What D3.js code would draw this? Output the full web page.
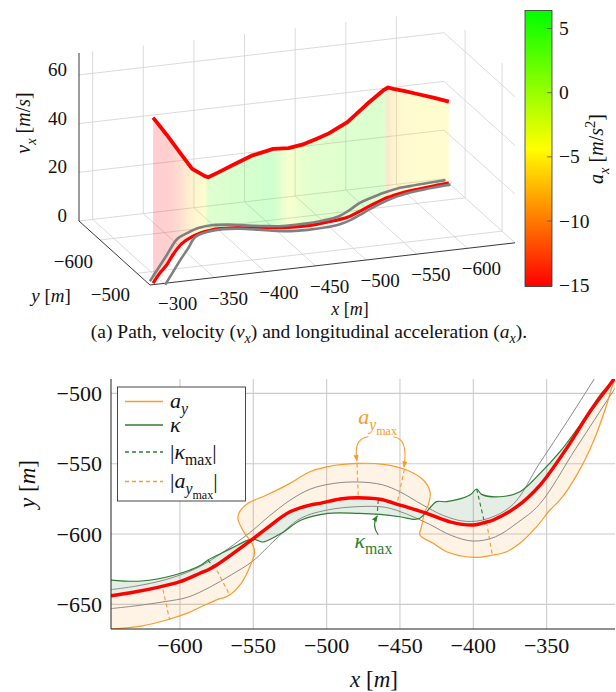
<!DOCTYPE html>
<html>
<head>
<meta charset="utf-8">
<script src="https://cdnjs.cloudflare.com/ajax/libs/d3/7.8.5/d3.min.js"></script>
<style>
  body { margin: 0; background: #fff; }
  svg { display: block; }
  text { font-family: "Liberation Serif", "DejaVu Serif", serif; fill: #111; }
</style>
</head>
<body>
<svg id="chart" width="616" height="692"></svg>
<script>
// reference path, shared by both panels (m)
const pathX = [-647, -631.8, -613.6, -600, -586.4, -580, -575, -563.7, -550.7, -540.9, -525, -511.4, -504.5, -490.9, -478.4, -463.6, -450, -431.8, -415.9, -400, -390, -386.4, -370.4, -354.5, -336.4, -320.5, -304.6, -291]
const pathY = [-643.9, -641.4, -637.5, -633.9, -627.9, -625, -622, -613.7, -603.8, -595.9, -584.2, -579.4, -578.2, -575.1, -574.2, -575.3, -579.4, -585.3, -591.3, -593.6, -591.2, -590, -580.6, -565.2, -539.1, -513.1, -490.5, -469]
// velocity v_x (m/s) and longitudinal acceleration a_x (m/s^2) along the path
const speed = [33.5, 36.1, 39.1, 41.4, 43.8, 45.1, 44.8, 43.6, 42.3, 41.2, 39.1, 37.4, 36.3, 35.1, 33.7, 32.6, 32.4, 29.8, 26.1, 23.0, 22.0, 22.8, 27.8, 36.4, 45.6, 53.5, 61.4, 68]
const accel = [-5, -5, -5, -5.5, -6.5, -10, 3, 3.5, 3.5, 3, 3, 2.5, 2, 2, 1, -3, 6, 5, 4, 3, 3, -5, -7, -11, -14, -15, -15, -15]

// road borders (gray)
const borderAX = [-647, -630, -610, -590, -575, -560, -550, -540, -525, -511, -495, -478, -462, -450, -435, -420, -405, -390, -373, -355, -336, -318, -300]
const borderAY = [-639.5, -637, -632.5, -625, -616, -605, -597, -588, -576, -568, -564, -563, -565, -570, -579, -587, -591, -589, -579, -550, -520, -490.5, -461]
const borderBX = [-647, -630, -610, -595, -580, -565, -550, -535, -518, -500, -478, -460, -445, -430, -415, -400, -385, -370, -355, -330, -305, -290]
const borderBY = [-653, -651, -648, -645, -638, -629, -619, -604, -589, -583, -580.5, -581, -586, -593, -601, -605, -602, -592, -579, -539, -499, -475]

// lateral acceleration envelope a_y
const ayX = [-647, -626.4, -609.1, -595.4, -585.5, -574.1, -567.3, -558.2, -551.4, -549.1, -551.4, -555.9, -560.5, -559.3, -553.6, -540.9, -525, -511.4, -500, -479.5, -461.4, -445.4, -434.1, -429.5, -430.7, -433, -435.3, -436.4, -427.3, -418.2, -400, -386.4, -377.3, -368.2, -356.8, -347.7, -340.9, -329.5, -318.2, -309.1, -305.7, -300]
const ayY = [-667.5, -665.4, -661.1, -656.4, -651.7, -646.4, -644.1, -635, -620.8, -612.6, -605.5, -599.5, -588.8, -584.1, -578.2, -572.3, -564, -555.7, -552.2, -549.8, -550.5, -554.5, -561.6, -569.9, -579.4, -584.1, -594.8, -600.7, -606.6, -612.6, -616.6, -614.9, -612.6, -606.6, -594.8, -582.9, -575.8, -558.1, -534.4, -508.3, -496.4, -480]

// curvature envelope kappa
const kappaX = [-647, -626.4, -603.6, -585.5, -580.9, -571.8, -560.5, -553.6, -549.1, -544.6, -542.7, -530.9, -517.3, -499.1, -478.4, -463.6, -450, -439.8, -436.4, -431.8, -425, -418.2, -402.3, -397.7, -394.3, -381.8, -368.2, -354.5, -340.9, -327.3, -313.6, -306.8, -298]
const kappaY = [-632.7, -633.4, -629.1, -622, -618.5, -613.7, -607.8, -604.3, -603.8, -605.5, -605.6, -599.5, -590, -585.3, -585.3, -586, -587.7, -589.6, -588.8, -584.1, -577, -577, -572.3, -568, -571.8, -573.5, -569.9, -556.9, -541.5, -522.5, -501.2, -492.9, -478]

// dashed markers: |kappa_max| and |a_y,max|
const kappaMaxSegs = [[[-581, -618.5], [-577, -623.3]], [[-464.8, -575.8], [-465.5, -586]], [[-397.7, -568], [-392, -593.5]]]
const ayMaxSegs = [[[-611.6, -639.5], [-607, -661]], [[-577, -621.5], [-566, -643.5]], [[-479.3, -549.8], [-478.4, -574.2]], [[-447, -554], [-452, -578.5]], [[-391, -591.5], [-387, -615]]]

// axes ticks
const topXTicks = [-300, -350, -400, -450, -500, -550, -600]
const topYTicks = [-600, -500]
const topZTicks = [0, 20, 40, 60]
const barTicks = [5, 0, -5, -10, -15]
const botXTicks = [-600, -550, -500, -450, -400, -350]
const botYTicks = [-650, -600, -550, -500]

const svg = d3.select('#chart')

// small helper for math-like labels with sub/superscripts
function mathText(t, parts, size) {
    const shift = { '-1': -0.38, 0: 0, 1: 0.28, 2: 0.5 }
    const scale = { '-1': 0.72, 0: 1, 1: 0.72, 2: 0.55 }
    let level = 0
    parts.forEach(p => {
        const lv = p.s || 0
        t.append('tspan')
            .attr('dy', (shift[lv] - shift[level]) * size)
            .attr('font-size', size * scale[lv])
            .attr('font-style', p.i ? 'italic' : 'normal')
            .text(p.t)
        level = lv
    })
    return t
}

// ================= upper panel (3D view) =================
const xLo = -286.5, xHi = -647, yBack = -657, yFront = -465, zTop = 69
const ox = 79, oy = 221
const x3a = d3.scaleLinear().domain([xLo, xHi]).range([0, 365])
const x3b = d3.scaleLinear().domain([xLo, xHi]).range([0, -42.2])
const y3a = d3.scaleLinear().domain([yBack, yFront]).range([0, 71])
const y3b = d3.scaleLinear().domain([yBack, yFront]).range([0, 64])
const z3 = d3.scaleLinear().domain([0, zTop]).range([0, -168])
const proj = (x, y, z) => [ox + x3a(x) + y3a(y), oy + x3b(x) + y3b(y) + z3(z)]

const panel3d = svg.append('g')
const gridLines = []
topXTicks.forEach(t => {
    gridLines.push([proj(t, yBack, 0), proj(t, yBack, zTop)])
    gridLines.push([proj(t, yBack, 0), proj(t, yFront, 0)])
})
topZTicks.forEach(t => {
    gridLines.push([proj(xLo, yBack, t), proj(xHi, yBack, t)])
    gridLines.push([proj(xHi, yBack, t), proj(xHi, yFront, t)])
})
topYTicks.forEach(t => {
    gridLines.push([proj(xHi, t, 0), proj(xHi, t, zTop)])
    gridLines.push([proj(xLo, t, 0), proj(xHi, t, 0)])
})
panel3d.selectAll('.grid3')
    .data(gridLines)
    .enter()
    .append('line')
    .attr('x1', d => d[0][0]).attr('y1', d => d[0][1])
    .attr('x2', d => d[1][0]).attr('y2', d => d[1][1])
    .attr('stroke', '#d2d2d2')
    .attr('stroke-width', 0.8)

const axes3 = [
    [proj(xLo, yBack, 0), proj(xLo, yBack, zTop)],
    [proj(xLo, yBack, 0), proj(xLo, yFront, 0)],
    [proj(xLo, yFront, 0), proj(xHi, yFront, 0)]
]
panel3d.selectAll('.axis3')
    .data(axes3)
    .enter()
    .append('line')
    .attr('x1', d => d[0][0]).attr('y1', d => d[0][1])
    .attr('x2', d => d[1][0]).attr('y2', d => d[1][1])
    .attr('stroke', '#222')
    .attr('stroke-width', 0.9)

// colour map for a_x
const barMin = -15.1, barMax = 6.4
const colour = d3.scaleLinear()
    .domain([barMin, (barMin + barMax) / 2, barMax])
    .range(['#ff0000', '#ffff00', '#00ff00'])

const idx = d3.range(pathX.length)
const base = idx.map(i => proj(pathX[i], pathY[i], 0))
const upper = idx.map(i => proj(pathX[i], pathY[i], speed[i]))

const defs = svg.append('defs')
const sxMin = d3.min(base, d => d[0]), sxMax = d3.max(base, d => d[0])
const fillGrad = defs.append('linearGradient')
    .attr('id', 'axfill')
    .attr('gradientUnits', 'userSpaceOnUse')
    .attr('x1', sxMin).attr('x2', sxMax).attr('y1', 0).attr('y2', 0)
idx.map(i => ({ o: (base[i][0] - sxMin) / (sxMax - sxMin), c: colour(accel[i]) }))
    .sort((a, b) => a.o - b.o)
    .forEach(s => fillGrad.append('stop').attr('offset', s.o).attr('stop-color', s.c))

panel3d.append('path')
    .attr('d', 'M' + upper.concat(base.slice().reverse()).map(p => p.join(',')).join('L') + 'Z')
    .attr('fill', 'url(#axfill)')
    .attr('fill-opacity', 0.19)

const line3 = d3.line().curve(d3.curveCatmullRom.alpha(0.5))
const borderA3 = borderAX.map((x, i) => proj(x, borderAY[i], 0))
const borderB3 = borderBX.map((x, i) => proj(x, borderBY[i], 0))
panel3d.append('path').attr('d', line3(base)).attr('fill', 'none')
    .attr('stroke', '#ff0000').attr('stroke-width', 3.2)
;[borderA3, borderB3].forEach(b => {
    panel3d.append('path').attr('d', line3(b)).attr('fill', 'none')
        .attr('stroke', '#808080').attr('stroke-width', 2.6)
})
panel3d.append('path').attr('d', d3.line()(upper)).attr('fill', 'none')
    .attr('stroke', '#ff0000').attr('stroke-width', 3.8)
    .attr('stroke-linejoin', 'round')

// tick labels of the 3D box
panel3d.selectAll('.zt').data(topZTicks).enter().append('text')
    .attr('x', 67).attr('y', d => proj(xLo, yBack, d)[1] + 1)
    .attr('text-anchor', 'end').attr('font-size', 19)
    .text(d => d3.format('d')(d))
panel3d.selectAll('.xt').data(topXTicks).enter().append('text')
    .attr('x', d => proj(d, yFront, 0)[0] + 14)
    .attr('y', d => proj(d, yFront, 0)[1] + 27)
    .attr('text-anchor', 'middle').attr('font-size', 19)
    .text(d => d3.format('d')(d))
panel3d.selectAll('.yt').data(topYTicks).enter().append('text')
    .attr('x', d => proj(xLo, d, 0)[0] - 7)
    .attr('y', d => proj(xLo, d, 0)[1] + 28)
    .attr('text-anchor', 'end').attr('font-size', 19)
    .text(d => d3.format('d')(d))

mathText(panel3d.append('text').attr('transform', 'translate(30,123) rotate(-90)').attr('text-anchor', 'middle'),
    [{ t: 'v', i: 1 }, { t: 'x', i: 1, s: 1 }, { t: ' [', s: 0 }, { t: 'm', i: 1 }, { t: '/' }, { t: 's', i: 1 }, { t: ']' }], 20)
mathText(panel3d.append('text').attr('x', 51).attr('y', 302).attr('text-anchor', 'middle'),
    [{ t: 'y', i: 1 }, { t: ' [' }, { t: 'm', i: 1 }, { t: ']' }], 19)
mathText(panel3d.append('text').attr('x', 350).attr('y', 315).attr('text-anchor', 'middle'),
    [{ t: 'x', i: 1 }, { t: ' [' }, { t: 'm', i: 1 }, { t: ']' }], 18)

// colorbar
const bar = d3.scaleLinear().domain([barMin, barMax]).range([286.5, 10.5])
const barGrad = defs.append('linearGradient').attr('id', 'bargrad')
    .attr('x1', 0).attr('x2', 0).attr('y1', 1).attr('y2', 0)
;[0, 0.5, 1].forEach(o => barGrad.append('stop').attr('offset', o)
    .attr('stop-color', colour(barMin + o * (barMax - barMin))))
panel3d.append('rect').attr('x', 525).attr('y', bar(barMax)).attr('width', 27)
    .attr('height', bar(barMin) - bar(barMax))
    .attr('fill', 'url(#bargrad)').attr('stroke', '#333').attr('stroke-width', 0.8)
panel3d.selectAll('.bt').data(barTicks).enter().append('line')
    .attr('x1', 547).attr('x2', 552).attr('y1', d => bar(d)).attr('y2', d => bar(d))
    .attr('stroke', '#555').attr('stroke-width', 0.8)
panel3d.selectAll('.btl').data(barTicks).enter().append('text')
    .attr('x', 559).attr('y', d => bar(d) + 6.5)
    .attr('font-size', 19.5)
    .text(d => d3.format('d')(d))
mathText(panel3d.append('text').attr('transform', 'translate(603,149) rotate(-90)').attr('text-anchor', 'middle'),
    [{ t: 'a', i: 1 }, { t: 'x', i: 1, s: 1 }, { t: ' [', s: 0 }, { t: 'm', i: 1 }, { t: '/' }, { t: 's', i: 1 }, { t: '2', s: -1 }, { t: ']', s: 0 }], 20)

mathText(svg.append('text').attr('x', 309).attr('y', 338).attr('text-anchor', 'middle'),
    [{ t: '(a) Path, velocity (' }, { t: 'v', i: 1 }, { t: 'x', i: 1, s: 1 }, { t: ') and longitudinal acceleration (', s: 0 },
     { t: 'a', i: 1 }, { t: 'x', i: 1, s: 1 }, { t: ').', s: 0 }], 19.5)

// ================= lower panel (x-y plane) =================
const bx = d3.scaleLinear().domain([-647, -303.4]).range([111, 615])
const by = d3.scaleLinear().domain([-667.5, -489.8]).range([629, 379])
const bot = svg.append('g')

defs.append('clipPath').attr('id', 'plotclip').append('rect')
    .attr('x', 111).attr('y', 379).attr('width', 504).attr('height', 250)

bot.selectAll('.gx').data(botXTicks).enter().append('line')
    .attr('x1', d => bx(d)).attr('x2', d => bx(d)).attr('y1', 379).attr('y2', 629)
    .attr('stroke', '#cccccc').attr('stroke-width', 1.1)
bot.selectAll('.gy').data(botYTicks).enter().append('line')
    .attr('y1', d => by(d)).attr('y2', d => by(d)).attr('x1', 111).attr('x2', 615)
    .attr('stroke', '#cccccc').attr('stroke-width', 1.1)

const plot = bot.append('g').attr('clip-path', 'url(#plotclip)')
const lineB = d3.line().x(d => bx(d[0])).y(d => by(d[1])).curve(d3.curveCatmullRom.alpha(0.5))
const zip = (xs, ys) => xs.map((x, i) => [x, ys[i]])
const pathPts = zip(pathX, pathY)
const ayPts = zip(ayX, ayY)
const kappaPts = zip(kappaX, kappaY)

const polyB = d3.line().x(d => bx(d[0])).y(d => by(d[1]))
plot.append('path').attr('d', polyB(ayPts.concat(pathPts.slice().reverse())) + 'Z')
    .attr('fill', '#fb9a2a').attr('fill-opacity', 0.12).attr('fill-rule', 'evenodd')
plot.append('path').attr('d', polyB(kappaPts.concat(pathPts.slice().reverse())) + 'Z')
    .attr('fill', '#2e7d32').attr('fill-opacity', 0.13).attr('fill-rule', 'evenodd')

;[zip(borderAX, borderAY), zip(borderBX, borderBY)].forEach(b => {
    plot.append('path').attr('d', lineB(b)).attr('fill', 'none')
        .attr('stroke', '#8a8a8a').attr('stroke-width', 1)
})
plot.append('path').attr('d', lineB(ayPts)).attr('fill', 'none')
    .attr('stroke', '#fb9a2a').attr('stroke-width', 1.2)
plot.append('path').attr('d', lineB(kappaPts)).attr('fill', 'none')
    .attr('stroke', '#2e7d32').attr('stroke-width', 1.2)
kappaMaxSegs.forEach(s => {
    plot.append('path').attr('d', polyB(s)).attr('stroke', '#2e7d32')
        .attr('stroke-width', 1.1).attr('stroke-dasharray', '4,3')
})
ayMaxSegs.forEach(s => {
    plot.append('path').attr('d', polyB(s)).attr('stroke', '#fb9a2a')
        .attr('stroke-width', 1.1).attr('stroke-dasharray', '4,3')
})
plot.append('path').attr('d', lineB(pathPts)).attr('fill', 'none')
    .attr('stroke', '#ff0000').attr('stroke-width', 3.4)

// axis lines and labels
bot.append('line').attr('x1', 111).attr('x2', 111).attr('y1', 379).attr('y2', 629)
    .attr('stroke', '#222').attr('stroke-width', 1)
bot.append('line').attr('x1', 111).attr('x2', 615).attr('y1', 629).attr('y2', 629)
    .attr('stroke', '#222').attr('stroke-width', 1)
bot.selectAll('.xl').data(botXTicks).enter().append('text')
    .attr('x', d => bx(d)).attr('y', 653)
    .attr('text-anchor', 'middle').attr('font-size', 22)
    .text(d => d3.format('d')(d))
bot.selectAll('.yl').data(botYTicks).enter().append('text')
    .attr('x', 102).attr('y', d => by(d) + 7.5)
    .attr('text-anchor', 'end').attr('font-size', 22)
    .text(d => d3.format('d')(d))
mathText(bot.append('text').attr('x', 374).attr('y', 687).attr('text-anchor', 'middle'),
    [{ t: 'x', i: 1 }, { t: ' [' }, { t: 'm', i: 1 }, { t: ']' }], 23)
mathText(bot.append('text').attr('transform', 'translate(35,484) rotate(-90)').attr('text-anchor', 'middle'),
    [{ t: 'y', i: 1 }, { t: ' [' }, { t: 'm', i: 1 }, { t: ']' }], 23)

// annotations
const mk = (id, col) => defs.append('marker').attr('id', id)
    .attr('viewBox', '0 0 10 10').attr('refX', 9).attr('refY', 5)
    .attr('markerWidth', 6).attr('markerHeight', 6).attr('orient', 'auto')
    .append('path').attr('d', 'M0,1L10,5L0,9Z').attr('fill', col)
mk('arrO', '#fb9a2a')
mk('arrG', '#2e7d32')
const curve3 = (a, c, b) => `M${bx(a[0])},${by(a[1])}Q${bx(c[0])},${by(c[1])} ${bx(b[0])},${by(b[1])}`
bot.append('path').attr('d', curve3([-471.6, -530.8], [-482, -532], [-479.3, -548]))
    .attr('fill', 'none').attr('stroke', '#fb9a2a').attr('stroke-width', 1.1).attr('marker-end', 'url(#arrO)')
bot.append('path').attr('d', curve3([-454.5, -530.8], [-444, -532], [-447.3, -552.5]))
    .attr('fill', 'none').attr('stroke', '#fb9a2a').attr('stroke-width', 1.1).attr('marker-end', 'url(#arrO)')
bot.append('path').attr('d', curve3([-464.8, -600.7], [-469.5, -594], [-465.5, -587]))
    .attr('fill', 'none').attr('stroke', '#2e7d32').attr('stroke-width', 1.1).attr('marker-end', 'url(#arrG)')
mathText(bot.append('text').attr('x', bx(-478.5)).attr('y', by(-521.5)).style('fill', '#fb9a2a'),
    [{ t: 'a', i: 1 }, { t: 'y', i: 1, s: 1 }, { t: 'max', s: 2 }], 22)
mathText(bot.append('text').attr('x', bx(-481)).attr('y', by(-610)).style('fill', '#2e7d32'),
    [{ t: 'κ', i: 1 }, { t: 'max', s: 1 }], 22)

// legend
const leg = bot.append('g')
leg.append('rect').attr('x', 117.5).attr('y', 387).attr('width', 128).attr('height', 114)
    .attr('fill', '#fff').attr('stroke', '#333').attr('stroke-width', 0.9)
const legItems = [
    { y: 401.5, col: '#fb9a2a', dash: null, parts: [{ t: 'a', i: 1 }, { t: 'y', i: 1, s: 1 }] },
    { y: 425, col: '#2e7d32', dash: null, parts: [{ t: 'κ', i: 1 }] },
    { y: 452, col: '#2e7d32', dash: '4,3', parts: [{ t: '|' }, { t: 'κ', i: 1 }, { t: 'max', s: 1 }, { t: '|', s: 0 }] },
    { y: 481.5, col: '#fb9a2a', dash: '4,3', parts: [{ t: '|' }, { t: 'a', i: 1 }, { t: 'y', i: 1, s: 1 }, { t: 'max', s: 2 }, { t: '|', s: 0 }] }
]
legItems.forEach(d => {
    leg.append('line').attr('x1', 125).attr('x2', 163).attr('y1', d.y).attr('y2', d.y)
        .attr('stroke', d.col).attr('stroke-width', 1.3).attr('stroke-dasharray', d.dash)
    mathText(leg.append('text').attr('x', 170).attr('y', d.y + 6.5), d.parts, 22)
})
</script>
</body>
</html>
